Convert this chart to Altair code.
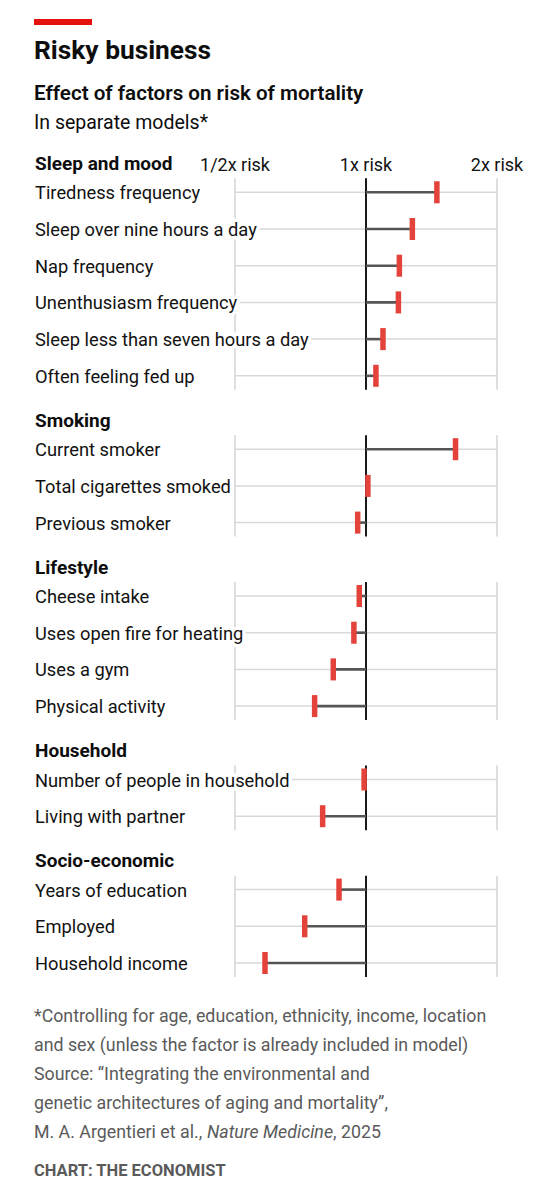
import altair as alt
import pandas as pd

# ---------------- data ----------------
groups = ["Sleep and mood", "Smoking", "Lifestyle", "Household", "Socio-economic"]
group_factors = [
    ["Tiredness frequency", "Sleep over nine hours a day", "Nap frequency",
     "Unenthusiasm frequency", "Sleep less than seven hours a day", "Often feeling fed up"],
    ["Current smoker", "Total cigarettes smoked", "Previous smoker"],
    ["Cheese intake", "Uses open fire for heating", "Uses a gym", "Physical activity"],
    ["Number of people in household", "Living with partner"],
    ["Years of education", "Employed", "Household income"],
]
group_risks = [
    [1.455, 1.278, 1.193, 1.187, 1.094, 1.054],
    [1.606, 1.010, 0.957],
    [0.965, 0.938, 0.841, 0.762],
    [0.990, 0.795],
    [0.867, 0.723, 0.586],
]
tick_values = [0.5, 1, 2]
tick_labels = ["1/2x risk", "1x risk", "2x risk"]

title = "Risky business"
subtitle = "Effect of factors on risk of mortality"
subsubtitle = "In separate models*"
footnote_lines = [
    "*Controlling for age, education, ethnicity, income, location",
    "and sex (unless the factor is already included in model)",
    "Source: \u201cIntegrating the environmental and",
    "genetic architectures of aging and mortality\u201d,",
]
source_parts = ["M. A. Argentieri et al., ", "Nature Medicine", ", 2025"]
source_styles = ["normal", "italic", "normal"]
credit = "CHART: THE ECONOMIST"

# ---------------- tables ----------------
rows, heads, spans = [], [], []
slot = 0
for g, facs, risks in zip(groups, group_factors, group_risks):
    heads.append({"group": g, "slot": slot})
    first = slot + 1
    for f, r in zip(facs, risks):
        slot += 1
        rows.append({"group": g, "factor": f, "risk": r, "slot": slot,
                     "lo": slot - 0.3, "hi": slot + 0.3, "base": 1.0,
                     "gl": 0.5, "gr": 2.0})
    last = slot
    for v in tick_values:
        spans.append({"group": g, "x": v, "top": first - 0.38, "bot": last + 0.38})
    slot += 1

rows_df = pd.DataFrame(rows)
heads_df = pd.DataFrame(heads)
spans_df = pd.DataFrame(spans)
ticks_df = pd.DataFrame({"x": tick_values, "label": tick_labels})
n_slots = slot - 1

FONT = "Roboto"
FOOT_SIZE = 17.8
FOOT_COLOR = "#5a5a5a"
xs = alt.Scale(type="log", base=2, domain=[0.5, 2], range=[227, 489])
ys = alt.Scale(type="linear", domain=[0, n_slots], range=[147.6, 955.0], zero=False, nice=False)

X = lambda f: alt.X(f, type="quantitative", scale=xs, axis=None)
Y = lambda f: alt.Y(f, type="quantitative", scale=ys, axis=None)

base_rows = alt.Chart(rows_df)

grid_h = base_rows.mark_rule(color="#d9d9d9", strokeWidth=1.5).encode(
    x=X("gl"), x2="gr", y=Y("slot"))

grid_v = alt.Chart(spans_df).transform_filter("datum.x != 1").mark_rule(
    color="#d4d4d4", strokeWidth=1.5).encode(x=X("x"), y=Y("top"), y2="bot")

label_halo = base_rows.mark_text(
    align="left", baseline="alphabetic", dy=7, font=FONT, fontSize=18.3,
    color="white", stroke="white", strokeWidth=7).encode(
    x=alt.value(27), y=Y("slot"), text="factor")

labels = base_rows.mark_text(
    align="left", baseline="alphabetic", dy=7, font=FONT, fontSize=18.3,
    color="#121212").encode(x=alt.value(27), y=Y("slot"), text="factor")

head_text = alt.Chart(heads_df).mark_text(
    align="left", baseline="alphabetic", dy=14.5, font=FONT, fontSize=19,
    fontWeight="bold", color="#0d0d0d").encode(
    x=alt.value(27), y=Y("slot"), text="group")

tick_text = alt.Chart(ticks_df).mark_text(
    align="center", baseline="alphabetic", font=FONT, fontSize=18,
    color="#121212").encode(x=X("x"), y=alt.value(162.5), text="label")

one_line = alt.Chart(spans_df).transform_filter("datum.x == 1").mark_rule(
    color="#1a1a1a", strokeWidth=2).encode(x=X("x"), y=Y("top"), y2="bot")

stems = base_rows.mark_rule(color="#555555", strokeWidth=2.6).encode(
    x=X("base"), x2="risk", y=Y("slot"))

markers = base_rows.mark_rule(color="#e3433a", strokeWidth=5.5, strokeCap="butt").encode(
    x=X("risk"), y=Y("lo"), y2="hi")

one = alt.Chart(pd.DataFrame({"k": [0]}))
red_bar = one.mark_rect(color="#e3120b").encode(
    x=alt.value(26), x2=alt.value(84), y=alt.value(11), y2=alt.value(17))
t1 = one.mark_text(align="left", baseline="alphabetic", font=FONT, fontSize=26.3,
                   fontWeight="bold", color="#0d0d0d", text=title).encode(
    x=alt.value(26), y=alt.value(51))
t2 = one.mark_text(align="left", baseline="alphabetic", font=FONT, fontSize=20.6,
                   fontWeight=600, color="#0d0d0d", text=subtitle).encode(
    x=alt.value(26), y=alt.value(92))
t3 = one.mark_text(align="left", baseline="alphabetic", font=FONT, fontSize=19.5,
                   color="#0d0d0d", text=subsubtitle).encode(
    x=alt.value(26), y=alt.value(121))

foot = one.mark_text(align="left", baseline="alphabetic", font=FONT, fontSize=FOOT_SIZE,
                     color=FOOT_COLOR, lineHeight=29, text=footnote_lines).encode(
    x=alt.value(26), y=alt.value(1013.5))

src_df = pd.DataFrame({"part": source_parts, "style": source_styles, "i": [0, 1, 2]})
src_x = [26, 199, 325]
src_layers = []
for i, sty in enumerate(source_styles):
    src_layers.append(
        alt.Chart(src_df).transform_filter(f"datum.i == {i}").mark_text(
            align="left", baseline="alphabetic", font=FONT, fontSize=FOOT_SIZE,
            fontStyle=sty, color=FOOT_COLOR).encode(
            x=alt.value(src_x[i]), y=alt.value(1129.5), text="part"))

cred = one.mark_text(align="left", baseline="alphabetic", font=FONT, fontSize=16.5,
                     fontWeight="bold", color=FOOT_COLOR, text=credit).encode(
    x=alt.value(26), y=alt.value(1168))

chart = alt.layer(
    grid_h, grid_v, label_halo, labels, head_text, tick_text, one_line, stems, markers,
    red_bar, t1, t2, t3, foot, *src_layers, cred,
).properties(
    width=524, height=1184, padding=0, autosize="none", background="white"
).configure_view(stroke=None)

chart.save("out.html", embed_options={"renderer": "svg", "actions": False})
